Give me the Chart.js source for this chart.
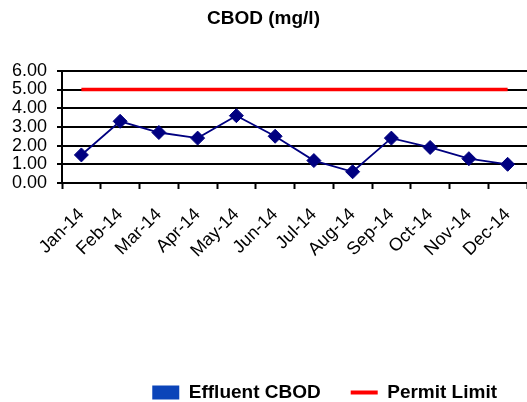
<!DOCTYPE html>
<html>
<head>
<meta charset="utf-8">
<script src="https://cdn.jsdelivr.net/npm/chart.js@4/dist/chart.umd.min.js"></script>
<style>
  html, body { margin: 0; padding: 0; background: #fff; }
  #wrap { width: 527px; height: 402px; position: relative; }
</style>
</head>
<body>
<div id="wrap"><canvas id="c"></canvas></div>
<script>
// Monthly effluent CBOD results against the permit limit (mg/l)
const months = ['Jan-14', 'Feb-14', 'Mar-14', 'Apr-14', 'May-14', 'Jun-14',
                'Jul-14', 'Aug-14', 'Sep-14', 'Oct-14', 'Nov-14', 'Dec-14'];
const effluentCBOD = [1.5, 3.3, 2.7, 2.4, 3.6, 2.5, 1.2, 0.6, 2.4, 1.9, 1.3, 1.0];
const permitLimit = [5, 5, 5, 5, 5, 5, 5, 5, 5, 5, 5, 5];
const yTicks = [0, 1, 2, 3, 4, 5, 6];

const FONT = '"Liberation Sans", Arial, sans-serif';
const NAVY = '#000080';
const RED = '#ff0000';

new Chart(document.getElementById('c'), {
  type: 'line',
  data: {
    labels: months,
    datasets: [
      {
        label: 'Effluent CBOD',
        data: effluentCBOD,
        borderColor: NAVY,
        backgroundColor: NAVY,
        borderWidth: 1.8,
        tension: 0,
        pointStyle: 'rectRot',
        pointRadius: 7,
        pointBackgroundColor: NAVY,
        pointBorderColor: NAVY,
        pointBorderWidth: 1
      },
      {
        label: 'Permit Limit',
        data: permitLimit,
        borderColor: RED,
        backgroundColor: RED,
        borderWidth: 3.5,
        tension: 0,
        pointRadius: 0
      }
    ]
  },
  options: {
    responsive: true,
    maintainAspectRatio: false,
    animation: false,
    layout: { autoPadding: false, padding: { left: 0, right: 0, top: 0, bottom: -10 } },
    plugins: {
      tooltip: { enabled: false },
      title: {
        display: true,
        text: 'CBOD (mg/l)',
        color: '#000',
        font: { family: FONT, size: 19, weight: 'bold' },
        padding: { top: 7, bottom: 41 }
      },
      legend: {
        display: true,
        position: 'bottom',
        align: 'end',
        labels: {
          color: '#000',
          font: { family: FONT, size: 19, weight: 'bold' },
          usePointStyle: true,
          pointStyleWidth: 27,
          boxHeight: 14,
          padding: 30,
          generateLabels: () => [
            { text: 'Effluent CBOD', pointStyle: 'rect', fillStyle: '#0b44b9',
              strokeStyle: '#0b44b9', lineWidth: 0, datasetIndex: 0, fontColor: '#000' },
            { text: 'Permit Limit', pointStyle: 'line', fillStyle: RED,
              strokeStyle: RED, lineWidth: 4, datasetIndex: 1, fontColor: '#000' }
          ]
        }
      }
    },
    scales: {
      x: {
        type: 'category',
        offset: true,
        border: { display: true, color: '#000', width: 2 },
        grid: {
          offset: true,
          drawOnChartArea: false,
          drawTicks: true,
          tickLength: 6,
          tickWidth: 2,
          tickColor: '#000'
        },
        ticks: {
          color: '#000',
          font: { family: FONT, size: 18 },
          autoSkip: false,
          minRotation: 45,
          maxRotation: 45,
          padding: 15
        },
        afterFit: (scale) => {
          scale.height = 170;
          scale.paddingLeft = 0;
          scale.paddingRight = 0;
        }
      },
      y: {
        min: 0,
        max: 6,
        border: { display: true, color: '#000', width: 2 },
        grid: {
          color: '#000',
          lineWidth: 2,
          drawTicks: true,
          tickLength: 5
        },
        afterBuildTicks: (scale) => { scale.ticks = yTicks.map(v => ({ value: v })); },
        ticks: {
          color: '#000',
          font: { family: FONT, size: 18, lineHeight: 1 },
          autoSkip: false,
          padding: 10,
          callback: (v) => Number(v).toFixed(2)
        },
        afterFit: (scale) => { scale.width = 62; }
      }
    }
  }
});
</script>
</body>
</html>
